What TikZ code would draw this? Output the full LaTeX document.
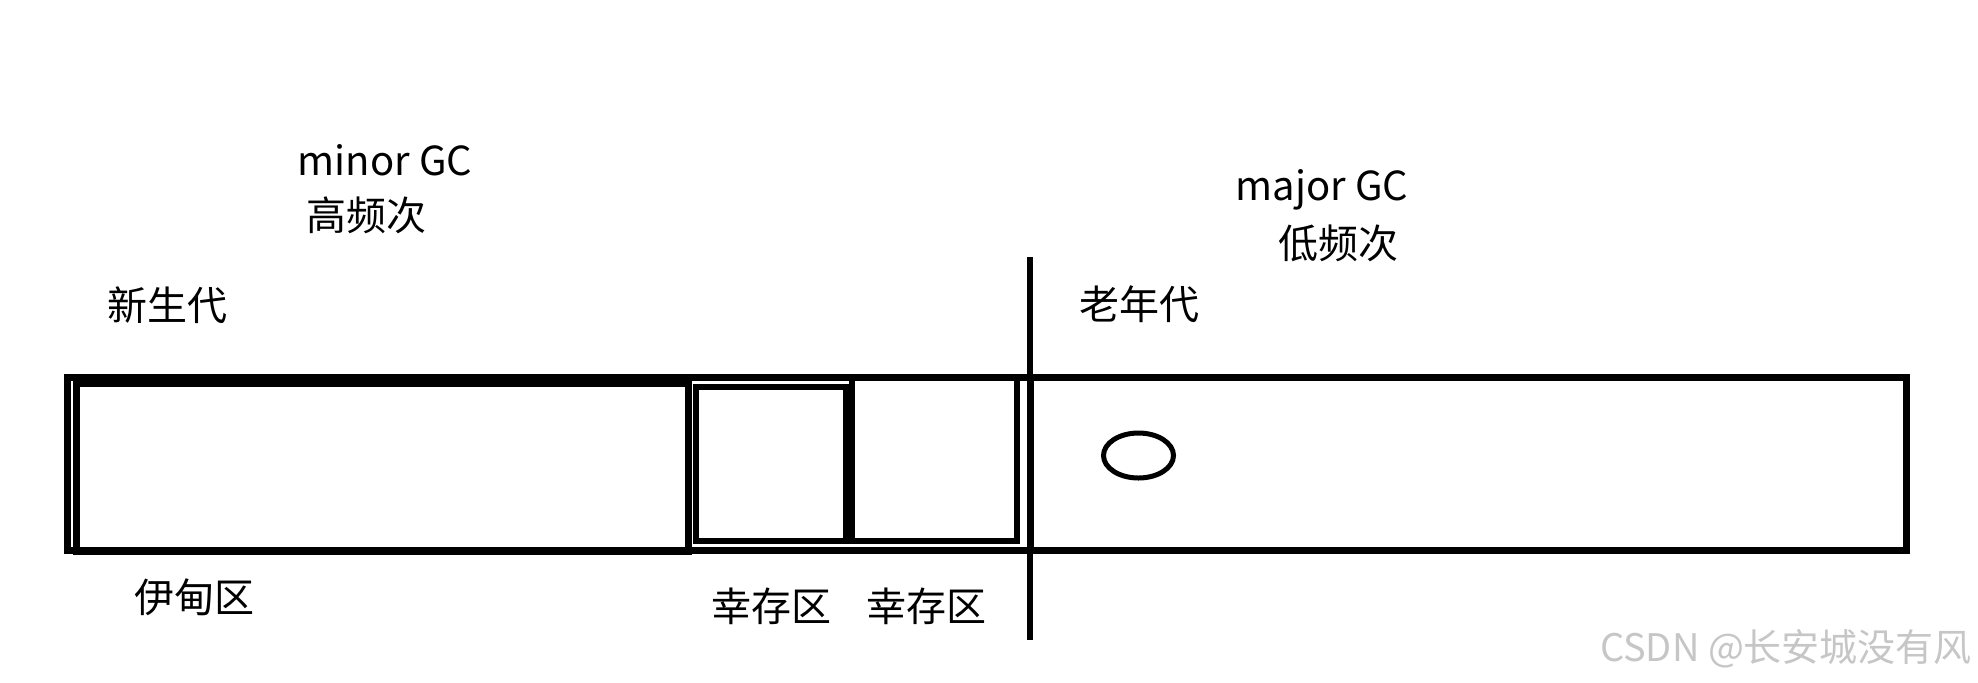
\documentclass[tikz,border=0pt]{standalone}
\usepackage{fontspec}
\setmainfont{Noto Sans CJK SC}

\tikzset{
  wall/.style={line width=3.5pt},
  subwall/.style={line width=3pt},
  tag/.style={inner sep=0pt, font=\fontsize{20}{24}\selectfont},
  mark text/.style={inner sep=0pt, text=gray!45, font=\fontsize{19}{22}\selectfont}
}

\begin{document}
\begin{tikzpicture}[x=0.5pt,y=-0.5pt]
\useasboundingbox (0,0) rectangle (1978,682);
% young generation
\draw [wall] (67.5,377.5) rectangle (1030,550);
\draw [wall] (76.5,383.5) rectangle (688,551);
\draw [subwall] (696,386.5) rectangle (846,540.5);
\draw [subwall] (852,378) rectangle (1016.5,541);
% old generation
\draw [wall] (1030,377.5) rectangle (1906.5,550);
\draw [line width=2.5pt] (1138.5,455.5) ellipse [x radius=35, y radius=22.5];
\coordinate (split top) at (1030,257);
\coordinate (split bottom) at (1030,640);
\draw [line width=3pt] (split top) -- (split bottom);

\node [tag, anchor=base] (minor) at (385,175) {minor GC};
\node [tag] (high) at (366,215) {高频次};
\node [tag, anchor=base] (major) at (1322,200) {major GC};
\node [tag] (low) at (1338,243) {低频次};

\node [tag] (young) at (167,305) {新生代};
\node [tag] (old) at (1139,304) {老年代};

\node [tag] (eden) at (194,597) {伊甸区};
\node [tag] (from) at (771,606) {幸存区};
\node [tag] (to) at (926,606) {幸存区};

\node [mark text] (csdn) at (1786,649) {CSDN @长安城没有风};
\end{tikzpicture}
\end{document}
